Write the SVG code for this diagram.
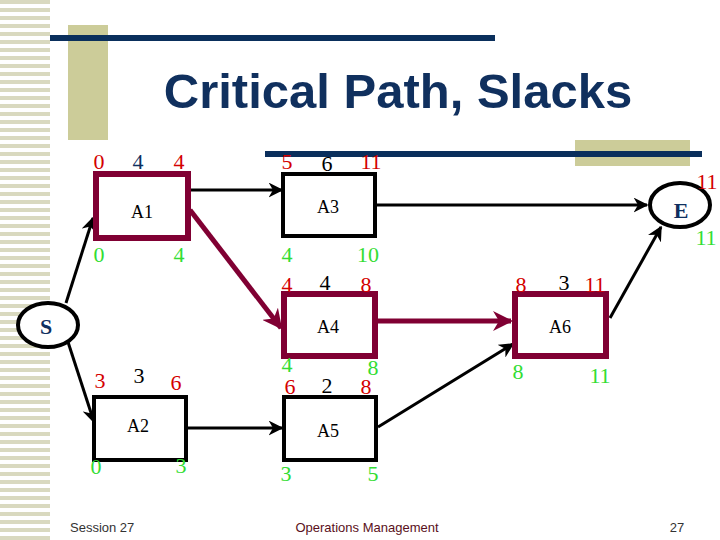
<svg xmlns="http://www.w3.org/2000/svg" width="720" height="540" viewBox="0 0 720 540">
<defs>
<pattern id="st" width="50" height="8" patternUnits="userSpaceOnUse"><rect width="50" height="4" fill="#d9d9bf"/></pattern>
<marker id="ab" viewBox="0 0 10 10" refX="9" refY="5" markerWidth="5" markerHeight="5" orient="auto"><path d="M0,0L10,5L0,10L3,5z" fill="#000"/></marker>
<marker id="am" viewBox="0 0 10 10" refX="9" refY="5" markerWidth="4" markerHeight="4" orient="auto"><path d="M0,0L10,5L0,10L3,5z" fill="#800033"/></marker>
<style>
.n{font-family:'Liberation Serif','DejaVu Serif',serif;font-size:22px;text-anchor:middle}
.r{fill:#d40000}.g{fill:#33dd33}.k{fill:#000}.b{fill:#0f3060}
.lb{font-family:'Liberation Serif',serif;font-size:18px;text-anchor:middle;fill:#000}
.bk{fill:#fff;stroke:#000;stroke-width:4}
.mr{fill:#fff;stroke:#800033;stroke-width:6}
.cb{stroke:#000;stroke-width:3;fill:none;marker-end:url(#ab)}
.cm{stroke:#800033;stroke-width:5;fill:none;marker-end:url(#am)}
.f{font-family:'Liberation Sans',sans-serif;font-size:13px}
</style>
</defs>
<rect width="720" height="540" fill="#fff"/>
<rect x="0" y="0" width="50" height="540" fill="url(#st)"/>
<rect x="68" y="25" width="40" height="115" fill="#cccc99"/>
<rect x="50" y="35" width="445" height="6" fill="#0a2f5c"/>
<rect x="575" y="140" width="115" height="26" fill="#cccc99"/>
<rect x="265" y="151" width="437" height="6" fill="#0a2f5c"/>
<text x="398" y="108" font-family="Liberation Sans,sans-serif" font-size="49" font-weight="bold" fill="#10305e" text-anchor="middle">Critical Path, Slacks</text>
<g id="connectors">
<line class="cb" x1="189" y1="190" x2="282" y2="190"/>
<line class="cb" x1="377" y1="205" x2="647" y2="205"/>
<line class="cm" x1="190" y1="210" x2="281" y2="328"/>
<line class="cm" x1="377" y1="321" x2="511" y2="321"/>
<line class="cb" x1="610" y1="318" x2="661" y2="227"/>
<line class="cb" x1="66" y1="303" x2="93" y2="218"/>
<line class="cb" x1="68" y1="342" x2="94" y2="422"/>
<line class="cb" x1="188" y1="428" x2="282" y2="428"/>
<line class="cb" x1="378" y1="427" x2="513" y2="344"/>
</g>
<g id="S"><ellipse cx="48" cy="325" rx="30" ry="22" fill="#fff" stroke="#000" stroke-width="4"/><text class="n b" x="46" y="334" font-weight="bold">S</text></g>
<g id="E"><ellipse cx="680" cy="205" rx="30" ry="22" fill="#fff" stroke="#000" stroke-width="4"/><text class="n b" x="681" y="218" font-weight="bold">E</text>
<text class="n r" x="707" y="189">11</text><text class="n g" x="706" y="245">11</text></g>
<g id="A1"><rect class="mr" x="96" y="174" width="92" height="64"/><text class="lb" x="142" y="218">A1</text>
<text class="n r" x="99" y="169">0</text><text class="n b" x="138" y="169">4</text><text class="n r" x="179" y="169">4</text>
<text class="n g" x="99" y="262">0</text><text class="n g" x="179" y="262">4</text></g>
<g id="A3"><rect class="bk" x="283" y="174" width="92" height="62"/><text class="lb" x="328" y="213">A3</text>
<text class="n r" x="287" y="169">5</text><text class="n k" x="327" y="171">6</text><text class="n r" x="371" y="169">11</text>
<text class="n g" x="287" y="262">4</text><text class="n g" x="368" y="262">10</text></g>
<g id="A4"><rect class="mr" x="284" y="294" width="91" height="62"/><text class="lb" x="328" y="333">A4</text>
<text class="n r" x="287" y="292">4</text><text class="n k" x="325" y="290">4</text><text class="n r" x="366" y="292">8</text>
<text class="n g" x="287" y="372" font-size="20">4</text><text class="n g" x="373" y="375">8</text></g>
<g id="A6"><rect class="mr" x="515" y="294" width="91" height="62"/><text class="lb" x="560" y="333">A6</text>
<text class="n r" x="521" y="292">8</text><text class="n k" x="564" y="290">3</text><text class="n r" x="595" y="292">11</text>
<text class="n g" x="518" y="379">8</text><text class="n g" x="600" y="383">11</text></g>
<g id="A2"><rect class="bk" x="94" y="397" width="92" height="63"/><text class="lb" x="138" y="432">A2</text>
<text class="n r" x="100" y="388">3</text><text class="n k" x="139" y="383">3</text><text class="n r" x="176" y="390">6</text>
<text class="n g" x="96" y="474">0</text><text class="n g" x="181" y="473">3</text></g>
<g id="A5"><rect class="bk" x="284" y="397" width="92" height="63"/><text class="lb" x="328" y="437">A5</text>
<text class="n r" x="290" y="394" font-size="20">6</text><text class="n k" x="327" y="393">2</text><text class="n r" x="366" y="394">8</text>
<text class="n g" x="286" y="481">3</text><text class="n g" x="373" y="481">5</text></g>
<text class="f" x="70" y="532" fill="#333">Session 27</text>
<text class="f" x="367" y="532" fill="#5a1020" text-anchor="middle">Operations Management</text>
<text class="f" x="677" y="532" fill="#333" text-anchor="middle">27</text>
</svg>
